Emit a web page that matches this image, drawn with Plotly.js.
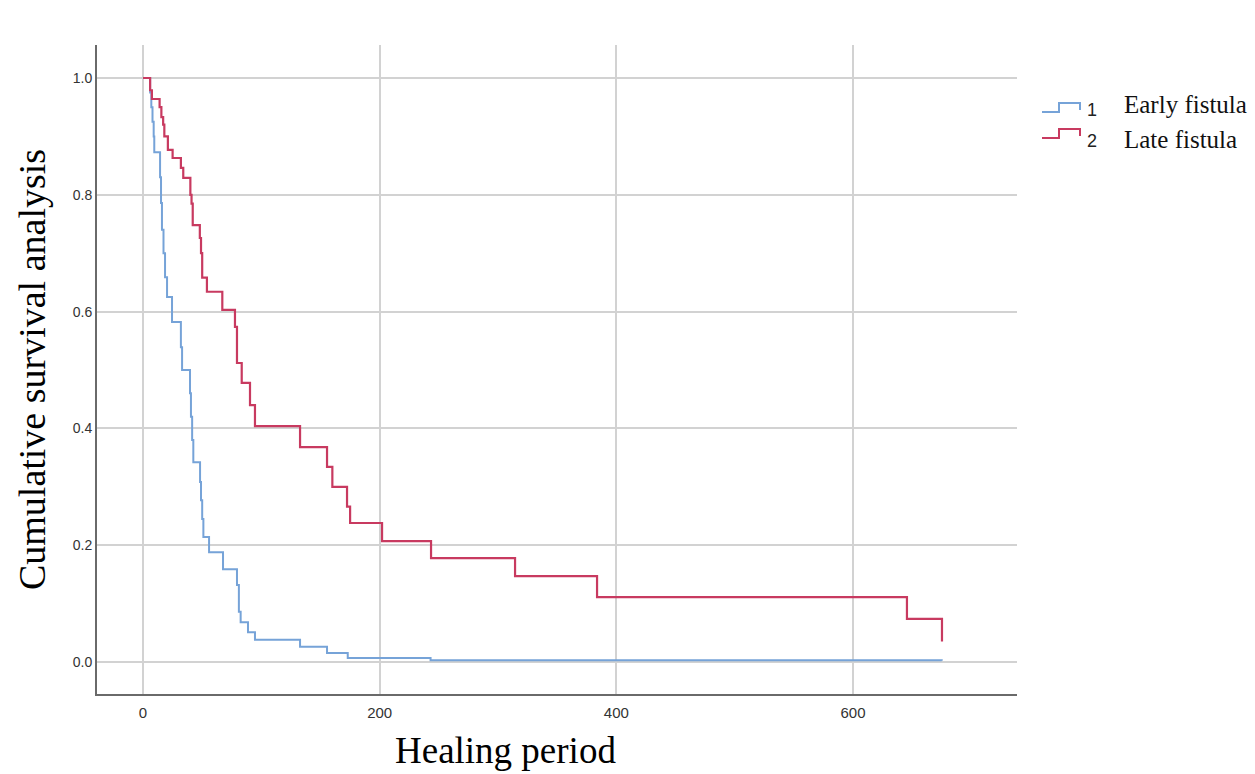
<!DOCTYPE html>
<html>
<head>
<meta charset="utf-8">
<script src="https://cdn.plot.ly/plotly-3.0.1.min.js"></script>
<style>html,body{margin:0;padding:0;background:#fff;}#chart{width:1255px;height:774px;}</style>
</head>
<body>
<div id="chart"></div>
<script>
// Early fistula (group 1)
const earlyX = [0, 6, 7, 8, 9, 9.5, 14.4, 15.2, 16, 17.3, 18.6, 20.3, 24.5, 32, 33, 39.7, 40.5, 41.5, 42.5, 48.2, 49, 50, 51, 55.8, 67.6, 79.4, 81, 82.5, 88.7, 94.6, 132.7, 155.5, 173, 243, 675];
const earlyY = [1.0, 0.975, 0.95, 0.925, 0.90, 0.873, 0.83, 0.786, 0.74, 0.70, 0.659, 0.625, 0.582, 0.539, 0.50, 0.46, 0.42, 0.38, 0.342, 0.308, 0.277, 0.245, 0.214, 0.188, 0.159, 0.132, 0.086, 0.068, 0.051, 0.038, 0.026, 0.0154, 0.0068, 0.003, 0.002];
// Late fistula (group 2)
const lateX = [0, 6, 7.5, 14, 15.5, 17, 18, 21, 25, 32, 34, 40, 41, 42, 48, 49, 50, 54, 67, 77.7, 79.4, 83.4, 90.4, 94.6, 132.7, 155.5, 160, 172.4, 175, 202, 243.4, 314.4, 383.7, 645.6, 675.2];
const lateY = [1.0, 0.979, 0.964, 0.95, 0.933, 0.92, 0.90, 0.877, 0.863, 0.846, 0.829, 0.80, 0.785, 0.748, 0.726, 0.70, 0.658, 0.634, 0.603, 0.574, 0.512, 0.478, 0.44, 0.404, 0.368, 0.334, 0.30, 0.266, 0.238, 0.207, 0.178, 0.147, 0.111, 0.074, 0.035];

const groupCodes = ['1', '2'];
const groupNames = ['Early fistula', 'Late fistula'];
const xTicks = [0, 200, 400, 600];
const yTicks = [0.0, 0.2, 0.4, 0.6, 0.8, 1.0];
const yTickText = ['0.0', '0.2', '0.4', '0.6', '0.8', '1.0'];
const xTitle = 'Healing period';
const yTitle = 'Cumulative survival analysis';

const blue = '#76a3d8';
const red = '#c83a60';

const traces = [
  {x: earlyX, y: earlyY, type: 'scatter', mode: 'lines', line: {shape: 'hv', color: blue, width: 2}, name: groupNames[0], showlegend: false},
  {x: lateX, y: lateY, type: 'scatter', mode: 'lines', line: {shape: 'hv', color: red, width: 2.2}, name: groupNames[1], showlegend: false}
];

// plot area: x 97..1017, y 45..694
const L = 97, R = 1017, T = 45, B = 694;
const px = v => (v - L) / (R - L);
const py = v => (B - v) / (B - T);

function iconPath(yLow, yHigh, yEnd) {
  return 'M ' + px(1042) + ' ' + py(yLow) + ' L ' + px(1059) + ' ' + py(yLow) +
         ' L ' + px(1059) + ' ' + py(yHigh) + ' L ' + px(1080) + ' ' + py(yHigh) +
         ' L ' + px(1080) + ' ' + py(yEnd);
}

const serif = 'Liberation Serif, Times New Roman, serif';
const sans = 'Liberation Sans, Arial, sans-serif';

const layout = {
  width: 1255, height: 774,
  margin: {l: L, r: 1255 - R, t: T, b: 774 - B},
  paper_bgcolor: '#ffffff', plot_bgcolor: '#ffffff',
  showlegend: false,
  xaxis: {
    range: [-38.9, 738.6], tickvals: xTicks, ticktext: xTicks.map(String),
    showgrid: true, gridcolor: '#d2d2d2', gridwidth: 2, zeroline: false,
    showline: true, linecolor: '#6a6a6a', linewidth: 2, ticks: '', ticklabelstandoff: 4,
    tickfont: {family: sans, size: 15, color: '#333'}
  },
  yaxis: {
    range: [-0.0548, 1.0565], tickvals: yTicks, ticktext: yTickText,
    showgrid: true, gridcolor: '#d2d2d2', gridwidth: 2, zeroline: false,
    showline: true, linecolor: '#6a6a6a', linewidth: 2, ticks: '',
    tickfont: {family: sans, size: 14, color: '#333'},
    title: {text: yTitle, font: {family: serif, size: 38, color: '#000'}, standoff: 15}
  },
  shapes: [
    {type: 'path', xref: 'paper', yref: 'paper', path: iconPath(112, 103, 110), line: {color: blue, width: 2}},
    {type: 'path', xref: 'paper', yref: 'paper', path: iconPath(138, 129, 136), line: {color: red, width: 2}}
  ],
  annotations: [
    {xref: 'paper', yref: 'paper', x: px(505), y: py(750), xanchor: 'center', yanchor: 'middle', showarrow: false, text: xTitle, font: {family: serif, size: 37, color: '#000'}},
    {xref: 'paper', yref: 'paper', x: px(1085), y: py(110), xanchor: 'left', yanchor: 'middle', showarrow: false, text: groupCodes[0], font: {family: sans, size: 18, color: '#222'}},
    {xref: 'paper', yref: 'paper', x: px(1085), y: py(141), xanchor: 'left', yanchor: 'middle', showarrow: false, text: groupCodes[1], font: {family: sans, size: 18, color: '#222'}},
    {xref: 'paper', yref: 'paper', x: px(1122), y: py(104), xanchor: 'left', yanchor: 'middle', showarrow: false, text: groupNames[0], font: {family: serif, size: 25, color: '#111'}},
    {xref: 'paper', yref: 'paper', x: px(1122), y: py(139), xanchor: 'left', yanchor: 'middle', showarrow: false, text: groupNames[1], font: {family: serif, size: 25, color: '#111'}}
  ]
};

Plotly.newPlot('chart', traces, layout, {displayModeBar: false, staticPlot: true});
</script>
</body>
</html>
